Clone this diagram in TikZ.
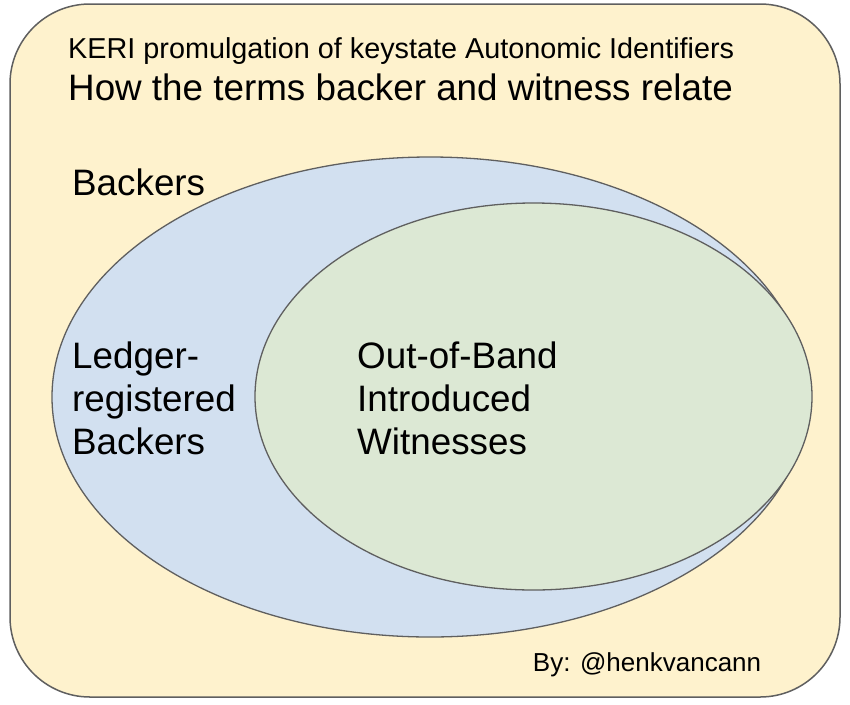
\documentclass[tikz,border=0pt]{standalone}
\usepackage{fontspec}
\setmainfont{Liberation Sans}
\definecolor{bgyellow}{HTML}{FEF2CD}
\definecolor{setblue}{HTML}{D2E0F0}
\definecolor{setgreen}{HTML}{DCE8D4}
\definecolor{edgegray}{HTML}{5F5F5F}
\tikzset{
  frame/.style={draw=edgegray, line width=1.5pt, fill=bgyellow, rounded corners=80pt},
  venn/.style={draw=edgegray, line width=1.3pt},
  label/.style={inner sep=0pt, anchor=base west, align=left, text=black},
  bigtext/.style={label, font=\fontsize{36.8}{43}\selectfont},
  midtext/.style={label, font=\fontsize{28.8}{32}\selectfont},
  smalltext/.style={label, font=\fontsize{26}{30}\selectfont},
}
\begin{document}
\begin{tikzpicture}[x=1pt,y=-1pt]
\useasboundingbox (0,0) rectangle (850,704);
\draw[frame] (10,4) rectangle (840,697);
\draw[venn, fill=setblue] (430,397) ellipse [x radius=378, y radius=240];
\draw[venn, fill=setgreen] (533.5,396.5) ellipse [x radius=278.5, y radius=193.5];
\node[midtext] (keri) at (68,58.3) {KERI promulgation of keystate Autonomic Identifiers};
\node[bigtext] (how) at (68,100.7) {How the terms backer and witness relate};
\node[bigtext] (backers) at (72,195.7) {Backers};
\node[bigtext] (ledger) at (72,454) {Ledger-\\registered\\Backers};
\node[bigtext] (oob) at (357,454) {Out-of-Band\\Introduced\\Witnesses};
\node[smalltext] (by) at (532.7,671.7) {By: @henkvancann};
\end{tikzpicture}
\end{document}
